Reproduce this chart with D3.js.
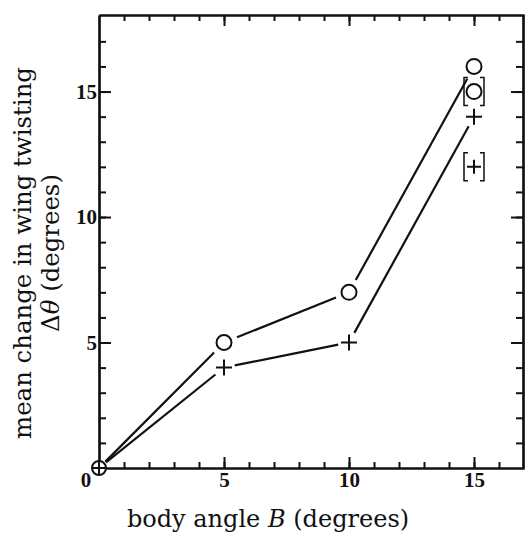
<!DOCTYPE html>
<html>
<meta charset="UTF-8">
<script src="https://cdn.jsdelivr.net/npm/d3@7"></script>
<style>
body {margin:0; background:#fff;}
svg text {font-family: "DejaVu Serif", serif; fill:#111;}
</style>
<body>
<div id="chart"></div>
<script>
// body angle B (degrees)
var angles = [0, 5, 10, 15];
// mean change in wing twisting, circles and crosses
var circleVals = [0, 5, 7, 16];
var crossVals = [0, 4, 5, 14];
// bracketed points at B = 15
var bracketCircle = [15, 15];
var bracketCross = [15, 12];
var majorTicks = [5, 10, 15];

var w = 526, h = 535;
var margin = {top: 15, right: 2, bottom: 67, left: 99};

var x = d3.scaleLinear().domain([0, 17]).range([margin.left, w - margin.right]);
var y = d3.scaleLinear().domain([0, 18.05]).range([h - margin.bottom, margin.top]);

var svg = d3.select("#chart").append("svg")
  .attr("width", w).attr("height", h);

var minorX = d3.range(1, 17), minorY = d3.range(1, 18);

function styleAxis(g) {
  g.selectAll("path.domain").attr("stroke", "#111").attr("stroke-width", 2.2);
  g.selectAll(".tick line").attr("stroke", "#111").attr("stroke-width", 2);
  g.selectAll(".tick text").attr("fill", "#111")
    .style("font-family", "Liberation Serif, serif").style("font-weight", "bold").style("font-size", "21px");
}

// bottom
svg.append("g").attr("transform", "translate(0," + y(0) + ")")
  .call(d3.axisBottom(x).tickValues(minorX).tickSize(-6).tickSizeOuter(0).tickFormat(""))
  .call(styleAxis);
svg.append("g").attr("transform", "translate(0," + y(0) + ")")
  .call(d3.axisBottom(x).tickValues(majorTicks).tickSize(-11).tickSizeOuter(0).tickPadding(4))
  .call(styleAxis);
// top
svg.append("g").attr("transform", "translate(0," + y(18.05) + ")")
  .call(d3.axisTop(x).tickValues(minorX).tickSize(-6).tickSizeOuter(0).tickFormat(""))
  .call(styleAxis);
svg.append("g").attr("transform", "translate(0," + y(18.05) + ")")
  .call(d3.axisTop(x).tickValues(majorTicks).tickSize(-11).tickSizeOuter(0).tickFormat(""))
  .call(styleAxis);
// left
svg.append("g").attr("transform", "translate(" + x(0) + ",0)")
  .call(d3.axisLeft(y).tickValues(minorY).tickSize(-7).tickSizeOuter(0).tickFormat(""))
  .call(styleAxis);
svg.append("g").attr("transform", "translate(" + x(0) + ",0)")
  .call(d3.axisLeft(y).tickValues(majorTicks).tickSize(-12).tickSizeOuter(0).tickPadding(2))
  .call(styleAxis);
// right
svg.append("g").attr("transform", "translate(" + (x(17) - 1) + ",0)")
  .call(d3.axisRight(y).tickValues(minorY).tickSize(-7).tickSizeOuter(0).tickFormat(""))
  .call(styleAxis);
svg.append("g").attr("transform", "translate(" + (x(17) - 1) + ",0)")
  .call(d3.axisRight(y).tickValues(majorTicks).tickSize(-12).tickSizeOuter(0).tickFormat(""))
  .call(styleAxis);

// corner zero
svg.append("text").attr("x", x(0) - 13).attr("y", y(0) + 19)
  .attr("text-anchor", "middle")
  .style("font-family", "Liberation Serif, serif").style("font-weight", "bold").style("font-size", "21px").text("0");

// lines with gaps near markers
function gappedLine(vals, gap) {
  for (var i = 0; i < vals.length - 1; i++) {
    var x1 = x(angles[i]), y1 = y(vals[i]), x2 = x(angles[i + 1]), y2 = y(vals[i + 1]);
    var dx = x2 - x1, dy = y2 - y1, L = Math.sqrt(dx * dx + dy * dy);
    var g1 = i === 0 ? 9 : gap, g2 = gap;
    svg.append("line")
      .attr("x1", x1 + dx * g1 / L).attr("y1", y1 + dy * g1 / L)
      .attr("x2", x2 - dx * g2 / L).attr("y2", y2 - dy * g2 / L)
      .attr("stroke", "#111").attr("stroke-width", 2.2);
  }
}
gappedLine(circleVals, 14);
gappedLine(crossVals, 11);

function circleMark(cx, cy) {
  svg.append("circle").attr("cx", cx).attr("cy", cy).attr("r", 7.5)
    .attr("fill", "none").attr("stroke", "#111").attr("stroke-width", 2);
}
function crossMark(cx, cy, s) {
  svg.append("path").attr("d", "M" + (cx - s) + "," + cy + "H" + (cx + s) + "M" + cx + "," + (cy - s) + "V" + (cy + s))
    .attr("fill", "none").attr("stroke", "#111").attr("stroke-width", 2);
}
function brackets(cx, cy) {
  svg.append("path")
    .attr("d", "M" + (cx - 6) + "," + (cy - 14) + "H" + (cx - 10) + "V" + (cy + 14) + "H" + (cx - 6) +
               "M" + (cx + 6) + "," + (cy - 14) + "H" + (cx + 10) + "V" + (cy + 14) + "H" + (cx + 6))
    .attr("fill", "none").attr("stroke", "#111").attr("stroke-width", 1.5);
}

angles.forEach(function(a, i) {
  if (i === 0) return;
  circleMark(x(a), y(circleVals[i]));
  crossMark(x(a), y(crossVals[i]), 8);
});
// origin: circle with cross
svg.append("circle").attr("cx", x(0)).attr("cy", y(0)).attr("r", 7)
  .attr("fill", "#fff").attr("stroke", "#111").attr("stroke-width", 2);
crossMark(x(0), y(0), 7);

circleMark(x(bracketCircle[0]), y(bracketCircle[1]));
brackets(x(bracketCircle[0]), y(bracketCircle[1]));
crossMark(x(bracketCross[0]), y(bracketCross[1]), 7);
brackets(x(bracketCross[0]), y(bracketCross[1]));

// axis titles
var xt = svg.append("text").attr("x", 268).attr("y", 527).attr("text-anchor", "middle")
  .style("font-size", "24px");
xt.append("tspan").text("body angle ");
xt.append("tspan").style("font-style", "italic").text("B");
xt.append("tspan").text(" (degrees)");

var yt = svg.append("g").attr("transform", "translate(0,253) rotate(-90)");
yt.append("text").attr("x", 0).attr("y", 31).attr("text-anchor", "middle")
  .style("font-size", "24.4px").text("mean change in wing twisting");
var y2 = yt.append("text").attr("x", 0).attr("y", 59).attr("text-anchor", "middle")
  .style("font-size", "24.4px");
y2.append("tspan").text("Δ");
y2.append("tspan").style("font-style", "italic").text("θ");
y2.append("tspan").text(" (degrees)");
</script>
</body>
</html>
